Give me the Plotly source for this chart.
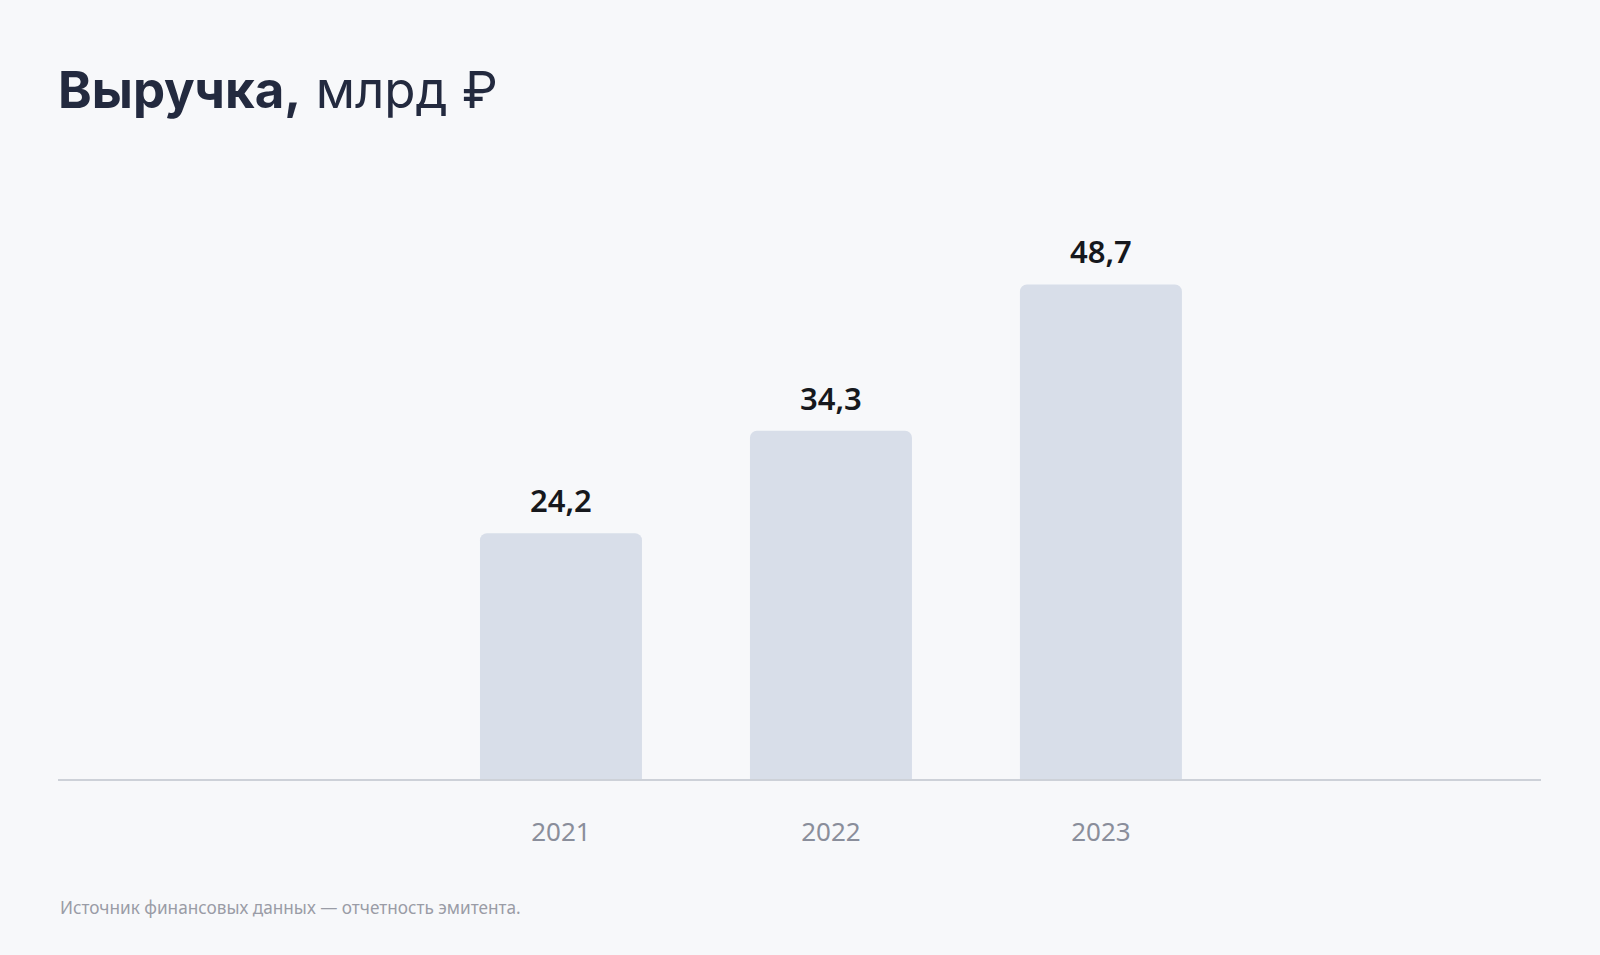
import plotly.graph_objects as go

# Revenue, bn RUB
years = ["2021", "2022", "2023"]
revenue = [24.2, 34.3, 48.7]
value_labels = ["24,2", "34,3", "48,7"]

COLORS = {
    'bg': '#f7f8fa',
    'bar': '#d8dee9',
    'axis': '#cdd1d8',
    'title': '#232a3f',
    'value': '#16181d',
    'tick': '#8a8e9b',
    'note': '#9a9ca6',
}

fig = go.Figure()

fig.add_trace(go.Bar(
    x=years,
    y=revenue,
    width=0.6,
    marker=dict(color=COLORS['bar'], line=dict(width=0)),
    hoverinfo='skip',
))

# Value labels above the bars (category index on the x axis)
for i, (val, lab) in enumerate(zip(revenue, value_labels)):
    fig.add_annotation(
        x=i, y=val, text=lab,
        showarrow=False, yanchor='bottom', yshift=10,
        font=dict(family='Noto Sans', size=31, color=COLORS['value'], weight=600),
    )

# Footnote
fig.add_annotation(
    xref='paper', yref='paper', x=0, y=-0.218,
    xanchor='left', yanchor='middle', showarrow=False,
    text='Источник финансовых данных — отчетность эмитента.',
    font=dict(family='Noto Sans', size=17.2, color=COLORS['note']),
)

fig.update_layout(
    width=1600, height=955,
    title=dict(
        text='<b>Выручка,</b> млрд ₽',
        x=0, xref='paper', xanchor='left',
        y=1 - 90 / 955, yref='container', yanchor='middle',
        font=dict(family='Inter', size=51, color=COLORS['title']),
    ),
    xaxis=dict(
        type='category',
        range=[-1.863, 3.63],
        showgrid=False, zeroline=False,
        showline=True, linecolor=COLORS['axis'], linewidth=2,
        ticks='', ticklabelstandoff=29,
        tickfont=dict(family='Noto Sans', size=26, color=COLORS['tick']),
    ),
    yaxis=dict(
        range=[0, 58],
        showgrid=False, zeroline=False, showticklabels=False,
    ),
    barcornerradius=7,
    plot_bgcolor=COLORS['bg'],
    paper_bgcolor=COLORS['bg'],
    showlegend=False,
    margin=dict(l=58, r=59, t=190, b=176),
)

fig.write_html(
    "out.html",
    config={'displayModeBar': False},
    post_script="document.body.style.margin='0';document.body.style.background='#f7f8fa';",
)
